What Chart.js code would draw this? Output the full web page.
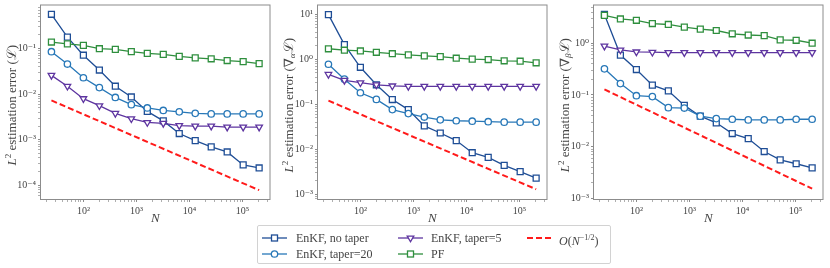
<!DOCTYPE html>
<html>
<head>
<meta charset="utf-8">
<script src="https://cdn.jsdelivr.net/npm/chart.js@4.4.1/dist/chart.umd.min.js"></script>
<style>
  body { margin: 0; background: #fff; }
  #wrap { position: relative; width: 830px; height: 268px; font-family: "Liberation Serif", serif; color: #444; }
  canvas { position: absolute; top: 0; }
  #legend { position: absolute; left: 257px; top: 225px; width: 354px; height: 39px; box-sizing: border-box;
            border: 1px solid #d2d2d2; border-radius: 2px; }
  .item { position: absolute; height: 14px; font-size: 12px; line-height: 14px; white-space: nowrap; }
  .item svg { position: absolute; left: 0; top: 0; }
  .item span { position: absolute; top: 0; }
</style>
</head>
<body>
<div id="wrap">
  <canvas id="c1" width="275" height="226" style="left:0px"></canvas>
  <canvas id="c2" width="275" height="226" style="left:277px"></canvas>
  <canvas id="c3" width="275" height="226" style="left:553px"></canvas>
  <div id="legend"></div>
</div>
<script>
// ensemble sizes
const N = [25, 50, 100, 200, 400, 800, 1600, 3200, 6400, 12800, 25600, 51200, 102400, 204800];
const refN = [25, 204800];

// panel 1: L
const noTaper1 = [0.57, 0.18, 0.072, 0.034, 0.015, 0.0087, 0.0042, 0.0026, 0.00137, 0.00096, 0.0007, 0.00054, 0.00028, 0.00024];
const taper20_1 = [0.086, 0.046, 0.023, 0.014, 0.0085, 0.0059, 0.005, 0.0044, 0.0041, 0.0038, 0.0037, 0.0037, 0.0037, 0.0037];
const taper5_1 = [0.026, 0.015, 0.008, 0.0056, 0.0038, 0.0029, 0.0024, 0.0023, 0.00205, 0.002, 0.002, 0.0019, 0.0019, 0.0019];
const pf1 = [0.14, 0.128, 0.118, 0.1, 0.097, 0.086, 0.079, 0.075, 0.068, 0.063, 0.06, 0.055, 0.052, 0.047];
const ref1 = [0.0073, 7.8e-5];

// panel 2: grad alpha
const noTaper2 = [9.7, 2.1, 0.66, 0.27, 0.127, 0.076, 0.033, 0.023, 0.0156, 0.0084, 0.0066, 0.0044, 0.0032, 0.0023];
const taper20_2 = [0.77, 0.36, 0.18, 0.128, 0.076, 0.062, 0.052, 0.045, 0.043, 0.042, 0.041, 0.04, 0.04, 0.04];
const taper5_2 = [0.46, 0.34, 0.3, 0.27, 0.255, 0.25, 0.25, 0.25, 0.25, 0.25, 0.25, 0.25, 0.25, 0.25];
const pf2 = [1.7, 1.58, 1.52, 1.42, 1.32, 1.24, 1.18, 1.14, 1.05, 1.0, 0.98, 0.92, 0.9, 0.83];
const ref2 = [0.12, 0.0013];

// panel 3: grad beta
const noTaper3 = [3.6, 0.59, 0.31, 0.155, 0.12, 0.063, 0.039, 0.029, 0.018, 0.0144, 0.0081, 0.0056, 0.0047, 0.0039];
const taper20_3 = [0.32, 0.166, 0.097, 0.093, 0.057, 0.056, 0.039, 0.035, 0.034, 0.033, 0.033, 0.033, 0.034, 0.034];
const taper5_3 = [0.88, 0.74, 0.68, 0.67, 0.66, 0.66, 0.66, 0.66, 0.66, 0.66, 0.66, 0.66, 0.66, 0.66];
const pf3 = [3.45, 2.94, 2.77, 2.4, 2.3, 2.04, 1.87, 1.76, 1.52, 1.44, 1.4, 1.16, 1.14, 1.0];
const ref3 = [0.128, 0.00155];

// axes
const xRange = [15.9, 321000];
const xMajor = [100, 1000, 10000, 100000];
const xMajorLabels = ['10²', '10³', '10⁴', '10⁵'];
const yRange1 = [5.0e-5, 0.889];
const yMajor1 = [1e-4, 1e-3, 1e-2, 1e-1];
const yMajorLabels1 = ['10⁻⁴', '10⁻³', '10⁻²', '10⁻¹'];
const yRange2 = [7.9e-4, 15.5];
const yMajor2 = [1e-3, 1e-2, 1e-1, 1, 10];
const yMajorLabels2 = ['10⁻³', '10⁻²', '10⁻¹', '10⁰', '10¹'];
const yRange3 = [0.98e-3, 5.35];
const yMajor3 = [1e-3, 1e-2, 1e-1, 1];
const yMajorLabels3 = ['10⁻³', '10⁻²', '10⁻¹', '10⁰'];

const seriesNames = ['EnKF, no taper', 'EnKF, taper=20', 'EnKF, taper=5', 'PF'];
const seriesColors = ['#1f4e96', '#2878b8', '#5e35a0', '#2f8f3e'];
const seriesMarkers = ['rect', 'circle', 'triangle', 'rect'];
const markerRadius = [4.2, 3.2, 3.8, 4.2];
const markerRotation = [0, 0, 180, 0];
const refColor = '#ff1a1a';
const fontFamily = '"Liberation Serif", "DejaVu Serif", serif';
const spineColor = '#8c8c8c';
const textColor = '#444';

function logTicks(range, majors) {
    let out = [];
    let e0 = Math.floor(Math.log10(range[0]));
    let e1 = Math.ceil(Math.log10(range[1]));
    for (let e = e0; e <= e1; e++) {
        for (let m = 1; m <= 9; m++) {
            let v = m * Math.pow(10, e);
            if (v > range[0] && v < range[1]) out.push(v);
        }
    }
    return out;
}

function majorIndex(v, majors) {
    return majors.findIndex(m => Math.abs(v / m - 1) < 1e-6);
}

function logAxis(range, majors, labels, horizontal) {
    return {
        type: 'logarithmic',
        min: range[0],
        max: range[1],
        bounds: 'data',
        afterBuildTicks: s => { s.ticks = logTicks(range, majors).map(v => ({value: v})); },
        afterFit: s => {
            if (horizontal) { s.height = 27; s.paddingLeft = 0; s.paddingRight = 0; }
            else { s.width = 41; s.paddingTop = 0; s.paddingBottom = 0; }
        },
        ticks: {
            autoSkip: false,
            maxRotation: 0,
            padding: horizontal ? 3 : 2,
            color: textColor,
            font: {family: fontFamily, size: 10},
            callback: v => {
                let i = majorIndex(v, majors);
                return i >= 0 ? labels[i] : '';
            }
        },
        grid: {
            drawOnChartArea: false,
            drawTicks: true,
            tickLength: 3,
            tickColor: spineColor,
            tickWidth: ctx => (ctx.tick && majorIndex(ctx.tick.value, majors) >= 0) ? 1 : 0.7
        },
        border: {display: false}
    };
}

function makeDatasets(series, ref) {
    let ds = series.map((vals, k) => ({
        label: seriesNames[k],
        data: N.map((n, i) => ({x: n, y: vals[i]})),
        borderColor: seriesColors[k],
        borderWidth: 1.3,
        pointStyle: seriesMarkers[k],
        pointRadius: markerRadius[k],
        pointRotation: markerRotation[k],
        pointBackgroundColor: '#fff',
        pointBorderColor: seriesColors[k],
        pointBorderWidth: 1.3,
        order: 4 - k
    }));
    ds.push({
        label: 'O(N^-1/2)',
        data: refN.map((n, i) => ({x: n, y: ref[i]})),
        borderColor: refColor,
        borderWidth: 2,
        borderDash: [6, 3],
        pointRadius: 0,
        order: 0
    });
    return ds;
}

const frame = {
    id: 'frame',
    afterDatasetsDraw(chart) {
        const {ctx, chartArea: a} = chart;
        ctx.save();
        ctx.strokeStyle = spineColor;
        ctx.lineWidth = 1;
        ctx.strokeRect(a.left - 0.5, a.top - 0.5, a.right - a.left + 1, a.bottom - a.top + 1);
        ctx.restore();
    }
};

function drawRich(ctx, segs, size) {
    let total = 0;
    let parts = segs.map(s => {
        let fs = (s.sup || s.sub) ? size * 0.7 : size;
        let font = (s.it ? 'italic ' : '') + fs + 'px ' + fontFamily;
        ctx.font = font;
        let w = ctx.measureText(s.t).width;
        total += w;
        return {t: s.t, sup: s.sup, sub: s.sub, font: font, w: w};
    });
    let x = -total / 2;
    parts.forEach(p => {
        ctx.font = p.font;
        let dy = p.sup ? -size * 0.38 : (p.sub ? size * 0.2 : 0);
        ctx.fillText(p.t, x, size * 0.35 + dy);
        x += p.w;
    });
}

const richTitles = {
    id: 'richTitles',
    afterDraw(chart, args, opts) {
        const {ctx, chartArea: a} = chart;
        ctx.save();
        ctx.fillStyle = textColor;
        ctx.textAlign = 'left';
        ctx.textBaseline = 'alphabetic';
        ctx.font = 'italic 13px ' + fontFamily;
        let xw = ctx.measureText('N').width;
        ctx.fillText('N', (a.left + a.right) / 2 - xw / 2, a.bottom + 23);
        ctx.translate(a.left - 30, (a.top + a.bottom) / 2 + 3);
        ctx.rotate(-Math.PI / 2);
        drawRich(ctx, opts.y, 13);
        ctx.restore();
    }
};

const yTitle1 = [{t: 'L', it: 1}, {t: '2', sup: 1}, {t: ' estimation error ('}, {t: 'ℒ'}, {t: ')'}];
const yTitle2 = [{t: 'L', it: 1}, {t: '2', sup: 1}, {t: ' estimation error ('}, {t: '∇'}, {t: 'α', sub: 1, it: 1}, {t: 'ℒ'}, {t: ')'}];
const yTitle3 = [{t: 'L', it: 1}, {t: '2', sup: 1}, {t: ' estimation error ('}, {t: '∇'}, {t: 'β', sub: 1, it: 1}, {t: 'ℒ'}, {t: ')'}];

function makeChart(id, series, ref, yRange, yMajor, yLabels, yTitle) {
    return new Chart(document.getElementById(id), {
        type: 'line',
        data: {datasets: makeDatasets(series, ref)},
        options: {
            responsive: false,
            animation: false,
            layout: {padding: {top: 4, right: 3, left: 0, bottom: 0}},
            plugins: {legend: {display: false}, tooltip: {enabled: false}, richTitles: {y: yTitle}},
            scales: {
                x: logAxis(xRange, xMajor, xMajorLabels, true),
                y: logAxis(yRange, yMajor, yLabels, false)
            }
        },
        plugins: [frame, richTitles]
    });
}

makeChart('c1', [noTaper1, taper20_1, taper5_1, pf1], ref1, yRange1, yMajor1, yMajorLabels1, yTitle1);
makeChart('c2', [noTaper2, taper20_2, taper5_2, pf2], ref2, yRange2, yMajor2, yMajorLabels2, yTitle2);
makeChart('c3', [noTaper3, taper20_3, taper5_3, pf3], ref3, yRange3, yMajor3, yMajorLabels3, yTitle3);

// legend, matplotlib column order
function markerSvg(k) {
    let c = seriesColors[k];
    let line = '<line x1="0" y1="7" x2="25" y2="7" stroke="' + c + '" stroke-width="1.3"/>';
    let m = '';
    if (seriesMarkers[k] === 'rect') m = '<rect x="9.5" y="4" width="6" height="6" fill="#fff" stroke="' + c + '" stroke-width="1.3"/>';
    if (seriesMarkers[k] === 'circle') m = '<circle cx="12.5" cy="7" r="3.2" fill="#fff" stroke="' + c + '" stroke-width="1.3"/>';
    if (seriesMarkers[k] === 'triangle') m = '<polygon points="9.2,5.1 15.8,5.1 12.5,10.8" fill="#fff" stroke="' + c + '" stroke-width="1.3"/>';
    return '<svg width="26" height="14">' + line + m + '</svg>';
}
const legendPos = [[4, 5], [4, 21], [140, 5], [140, 21]];
const textLeft = [38, 38, 173, 173];
let html = '';
seriesNames.forEach((name, k) => {
    html += '<div class="item" style="left:' + legendPos[k][0] + 'px;top:' + legendPos[k][1] + 'px;width:140px">' +
        markerSvg(k) + '<span style="left:' + (textLeft[k] - legendPos[k][0]) + 'px">' + name + '</span></div>';
});
html += '<div class="item" style="left:269px;top:5px;width:90px">' +
    '<svg width="26" height="14"><line x1="0" y1="7" x2="25" y2="7" stroke="' + refColor + '" stroke-width="2" stroke-dasharray="6,3"/></svg>' +
    '<span style="left:32px"><i>O</i>(<i>N</i><sup style="font-size:8px;vertical-align:5px">−1/2</sup>)</span></div>';
document.getElementById('legend').innerHTML = html;
</script>
</body>
</html>
